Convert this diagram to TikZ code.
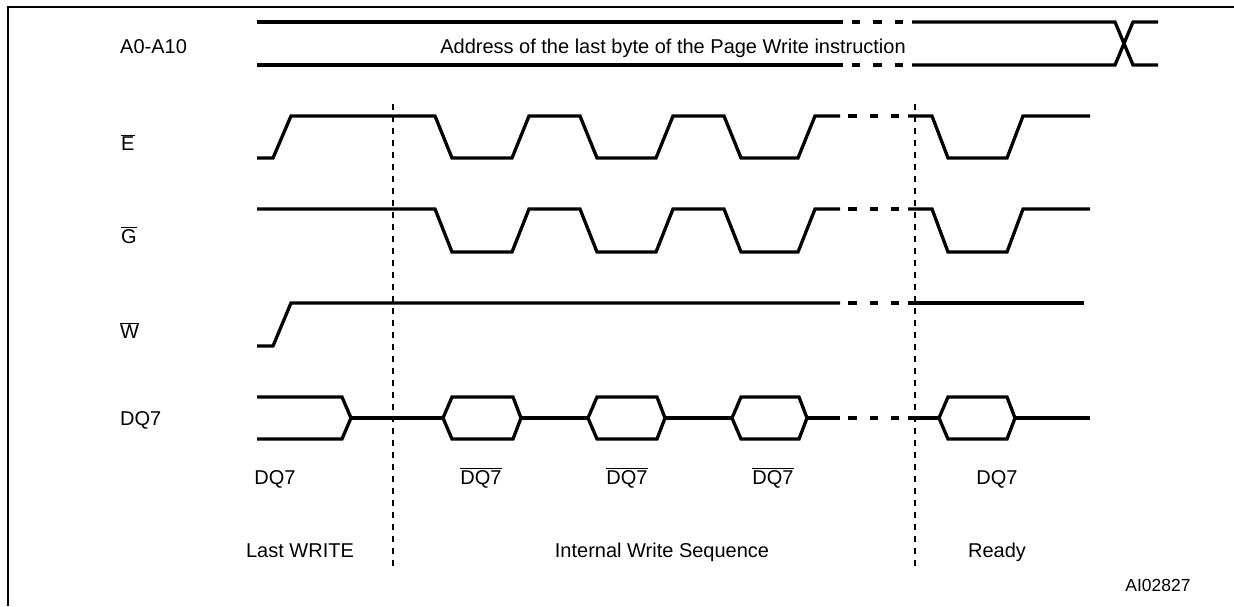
\documentclass[tikz,border=0pt]{standalone}
\usepackage{fontspec}
\setmainfont{Liberation Sans}
\newcommand\hexbox[2]{\draw[sig] (#1,418) -- ({#1+9},397) -- ({#2-8},397) -- (#2,418) -- ({#2-8},439) -- ({#1+9},439) -- cycle;}
\newcommand\gapdashes[1]{\foreach \a/\b in {848/857,870/878,891/899} {\draw[sig] (\a,#1) -- (\b,#1);}}
\begin{document}
\begin{tikzpicture}[x=1pt,y=-1pt,
  sig/.style={line width=3.3pt, line join=miter, line cap=butt},
  guide/.style={line width=1.6pt, dash pattern=on 6pt off 6pt},
  frame/.style={line width=2.6pt},
  lbl/.style={font=\fontsize{20}{24}\selectfont, inner sep=0pt, anchor=base},
  lblw/.style={lbl, anchor=base west},
  small/.style={font=\fontsize{17.5}{21}\selectfont, inner sep=0pt, anchor=base}]
\useasboundingbox (0,0) rectangle (1234,606);

% frame
\draw[frame] (8,606) -- (8,7) -- (1234,7);

% signal names
\node[lblw] (nA) at (120,53) {A0-A10};
\node[lblw] (nE) at (121,150) {$\overline{\mbox{E}}$};
\node[lblw] (nG) at (121,243) {$\overline{\mbox{G}}$};
\node[lblw] (nW) at (120,338) {$\overline{\mbox{W}}$};
\node[lblw] (nD) at (120,425) {DQ7};

% address bus
\draw[sig] (257,22) -- (843,22);
\draw[sig] (257,65) -- (843,65);
\foreach \a/\b in {852/860,873/882,895/903} {\draw[sig] (\a,22) -- (\b,22); \draw[sig] (\a,65) -- (\b,65);}
\draw[sig] (912,22) -- (1115,22) -- (1133,65) -- (1158,65);
\draw[sig] (912,65) -- (1115,65) -- (1133,22) -- (1158,22);
\node[lbl] (addr) at (673,53) {Address of the last byte of the Page Write instruction};

% E
\draw[sig] (257,158) -- (273,158) -- (291,116) -- (435,116) -- (452,158) -- (512,158) -- (529,116)
  -- (580,116) -- (597,158) -- (656,158) -- (673,116) -- (724,116) -- (741,158) -- (798,158)
  -- (815,116) -- (840,116);
\gapdashes{116}
\draw[sig] (908,116) -- (932,116) -- (948,158) -- (1007,158) -- (1023,116) -- (1090,116);

% G
\draw[sig] (257,209) -- (435,209) -- (452,252) -- (512,252) -- (529,209)
  -- (580,209) -- (597,252) -- (656,252) -- (673,209) -- (724,209) -- (741,252) -- (798,252)
  -- (815,209) -- (840,209);
\gapdashes{209}
\draw[sig] (908,209) -- (932,209) -- (948,252) -- (1007,252) -- (1023,209) -- (1090,209);

% W
\draw[sig] (257,346) -- (273,346) -- (291,303) -- (840,303);
\gapdashes{303}
\draw[sig] (908,303) -- (1084,303);

% DQ7
\draw[sig] (257,397) -- (342,397) -- (351,418) -- (342,439) -- (257,439);
\draw[sig] (351,418) -- (443,418);
\hexbox{443}{521}
\draw[sig] (521,418) -- (588,418);
\hexbox{588}{665}
\draw[sig] (665,418) -- (732,418);
\hexbox{732}{807}
\draw[sig] (807,418) -- (840,418);
\gapdashes{418}
\draw[sig] (908,418) -- (939,418);
\hexbox{939}{1015}
\draw[sig] (1015,418) -- (1090,418);

% DQ7 value labels
\node[lbl] (v1) at (275,484) {DQ7};
\node[lbl] (v2) at (481,484) {$\overline{\mbox{DQ7}}$};
\node[lbl] (v3) at (627,484) {$\overline{\mbox{DQ7}}$};
\node[lbl] (v4) at (773,484) {$\overline{\mbox{DQ7}}$};
\node[lbl] (v5) at (997,484) {DQ7};

% phase separators
\draw[guide] (393,104) -- (393,568);
\draw[guide] (915,104) -- (915,568);

% phase labels
\node[lbl] (p1) at (300,557) {Last WRITE};
\node[lbl] (p2) at (662,557) {Internal Write Sequence};
\node[lbl] (p3) at (997,557) {Ready};
\node[small] (ref) at (1158,591) {AI02827};
\end{tikzpicture}
\end{document}
